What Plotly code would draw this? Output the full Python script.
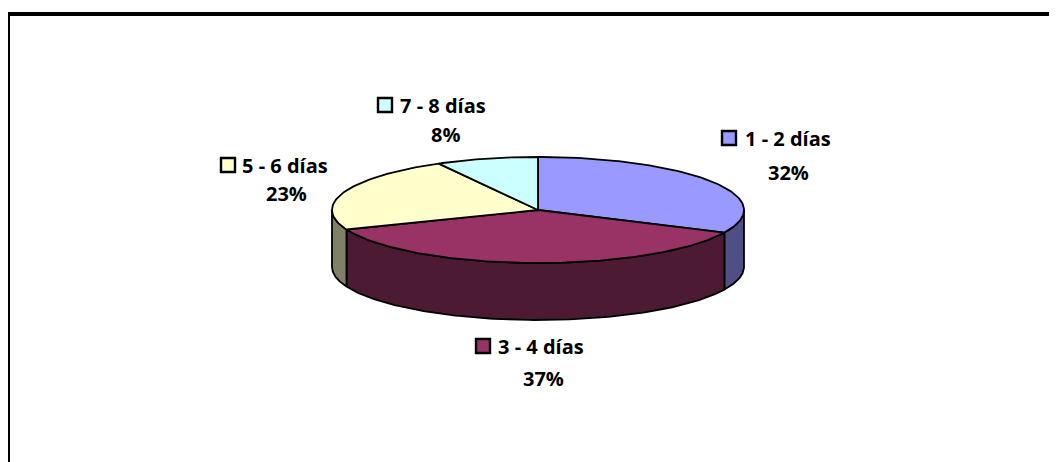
import numpy as np
import plotly.graph_objects as go

# ---- data ----
categories = ["1 - 2 días", "3 - 4 días", "5 - 6 días", "7 - 8 días"]
values = [32, 37, 23, 8]
pct_labels = ["32%", "37%", "23%", "8%"]

# ---- style ----
top_colors = ["#9999FF", "#993366", "#FFFFCC", "#CCFFFF"]
side_colors = ["#4F4F86", "#4D1A33", "#808066", "#668080"]

W, H = 1057, 462
OFF = 8                # browser body margin
CX, CY = 538, 210      # pie centre (page pixel space)
RX, RY = 206, 53       # ellipse radii
DEPTH = 57             # pie thickness
FONT = "Open Sans"

# label layout: (square left, square top, text left, text centre y, pct centre x, pct centre y)
label_pos = [
    (722, 131, 743, 138, 788, 172),
    (476, 339, 496, 346, 543, 378),
    (221, 158, 240, 165, 286, 193),
    (378, 98, 398, 105, 445, 134),
]


def pt(t, dy=0.0):
    return CX + RX * np.cos(t), CY - RY * np.sin(t) + dy


fig = go.Figure()

total = float(sum(values))
cum = np.concatenate([[0.0], np.cumsum(values)]) / total
starts = np.pi / 2 - 2 * np.pi * cum[:-1]
ends = np.pi / 2 - 2 * np.pi * cum[1:]

# front side walls (visible part: angles in [-pi, 0])
for i in range(len(values)):
    a0, a1 = ends[i], starts[i]          # a0 < a1
    lo, hi = max(a0, -np.pi), min(a1, 0.0)
    if hi <= lo:
        continue
    t = np.linspace(hi, lo, 120)
    xt, yt = pt(t)
    xb, yb = pt(t[::-1], DEPTH)
    xs = np.concatenate([xt, xb, xt[:1]])
    ys = np.concatenate([yt, yb, yt[:1]])
    fig.add_trace(go.Scatter(x=xs, y=ys, mode="lines", fill="toself",
                             fillcolor=side_colors[i],
                             line=dict(color="black", width=1.8),
                             hoverinfo="skip", showlegend=False))

# top faces
for i in range(len(values)):
    t = np.linspace(starts[i], ends[i], max(int(300 * values[i] / total), 12))
    xa, ya = pt(t)
    xs = np.concatenate([[CX], xa, [CX]])
    ys = np.concatenate([[CY], ya, [CY]])
    fig.add_trace(go.Scatter(x=xs, y=ys, mode="lines", fill="toself",
                             fillcolor=top_colors[i],
                             line=dict(color="black", width=1.8),
                             hoverinfo="skip", showlegend=False))

shapes = [dict(type="rect", xref="x", yref="y", x0=8, y0=14, x1=W + 10, y1=H + 10,
               line=dict(color="black", width=4), fillcolor="rgba(0,0,0,0)",
               layer="below")]
annotations = []
for i, (sx, sy, tx, ty, px, py) in enumerate(label_pos):
    shapes.append(dict(type="rect", xref="x", yref="y", x0=sx, y0=sy, x1=sx + 14, y1=sy + 14,
                       line=dict(color="black", width=2.4), fillcolor=top_colors[i]))
    annotations.append(dict(x=tx, y=ty, xref="x", yref="y", text="<b>%s</b>" % categories[i],
                            showarrow=False, xanchor="left", yanchor="middle",
                            font=dict(family=FONT, size=20, color="black")))
    annotations.append(dict(x=px, y=py, xref="x", yref="y", text="<b>%s</b>" % pct_labels[i],
                            showarrow=False, xanchor="center", yanchor="middle",
                            font=dict(family=FONT, size=20, color="black")))

fig.update_layout(
    width=W - OFF, height=H - OFF, autosize=False,
    margin=dict(l=0, r=0, t=0, b=0, pad=0),
    paper_bgcolor="white", plot_bgcolor="white",
    xaxis=dict(range=[OFF, W], visible=False, fixedrange=True),
    yaxis=dict(range=[H, OFF], visible=False, fixedrange=True),
    shapes=shapes, annotations=annotations,
    showlegend=False,
)

fig.write_html("out.html")
